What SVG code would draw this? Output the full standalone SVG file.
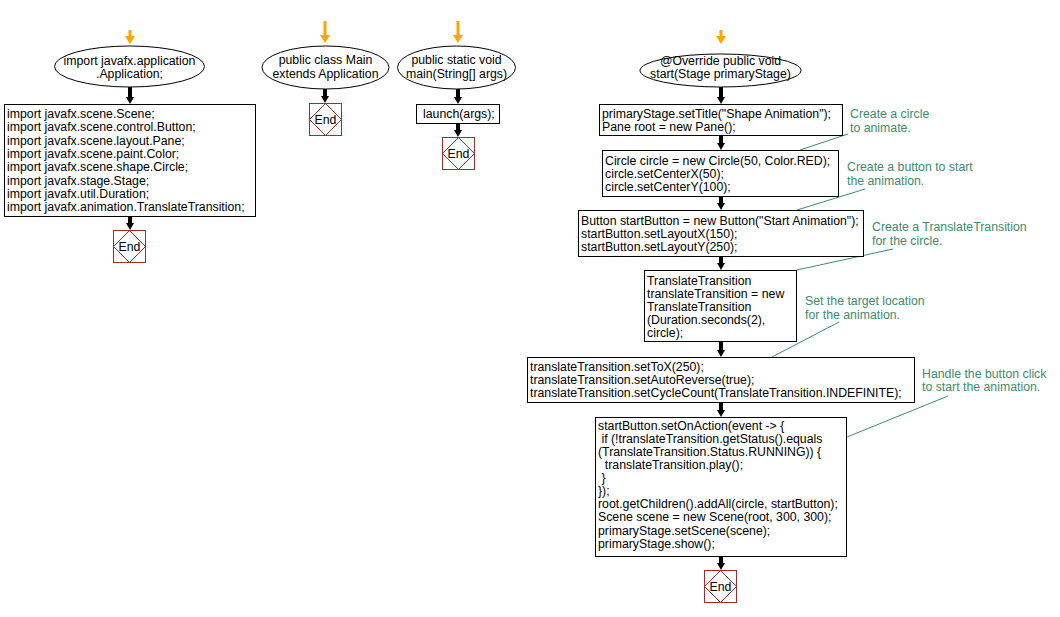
<svg xmlns="http://www.w3.org/2000/svg" width="1060" height="617" viewBox="0 0 1060 617">
<style>
text{font-family:"Liberation Sans",Arial,sans-serif;font-size:12.3px;fill:#000;white-space:pre}
.n{fill:#fff;stroke:#000;stroke-width:1}
.end rect{fill:#fff;stroke:#a52a2a;stroke-width:1}
.end path{fill:none;stroke:#a52a2a;stroke-width:1}
.end text{text-anchor:middle}
.c{text-anchor:middle}
.cm{fill:#3e8b6d}
.cl{stroke:#3e8b6d;stroke-width:1;fill:none}
.ab{stroke:#000;stroke-width:4;marker-end:url(#mb)}
.ao{stroke:#ffa500;stroke-width:3;marker-end:url(#mo)}
</style>
<defs>
<marker id="mb" markerUnits="userSpaceOnUse" markerWidth="8" markerHeight="8" refX="0" refY="4" orient="auto"><path d="M0,0 L7,4 L0,8 z" fill="#000"/></marker>
<marker id="mo" markerUnits="userSpaceOnUse" markerWidth="9" markerHeight="10" refX="0" refY="5" orient="auto"><path d="M0,0 L8,5 L0,10 z" fill="#ffa500"/></marker>
</defs>
<g id="connectors">
<line class="ao" x1="130" y1="30" x2="130" y2="36"/>
<line class="ab" x1="130" y1="87" x2="130" y2="97"/>
<line class="ab" x1="130" y1="217" x2="130" y2="223"/>
<line class="ao" x1="325" y1="21" x2="325" y2="35"/>
<line class="ab" x1="325" y1="89" x2="325" y2="96"/>
<line class="ao" x1="458" y1="21" x2="458" y2="35"/>
<line class="ab" x1="458" y1="89" x2="458" y2="97"/>
<line class="ab" x1="458" y1="124" x2="458" y2="130"/>
<line class="ao" x1="721" y1="30" x2="721" y2="36"/>
<line class="ab" x1="721" y1="87" x2="721" y2="97"/>
<line class="ab" x1="721" y1="136" x2="721" y2="143"/>
<line class="ab" x1="721" y1="197" x2="721" y2="203"/>
<line class="ab" x1="721" y1="257" x2="721" y2="263"/>
<line class="ab" x1="721" y1="342" x2="721" y2="350"/>
<line class="ab" x1="721" y1="403" x2="721" y2="410"/>
<line class="ab" x1="721" y1="557" x2="721" y2="563"/>
<line class="cl" x1="848" y1="134" x2="800" y2="150"/>
<line class="cl" x1="865" y1="189" x2="797" y2="210"/>
<line class="cl" x1="893" y1="249" x2="797" y2="270"/>
<line class="cl" x1="839" y1="322" x2="772" y2="357"/>
<line class="cl" x1="948" y1="396" x2="847" y2="437"/>
</g>
<g id="n_import_app">
<ellipse class="n" cx="129.5" cy="66.5" rx="75" ry="20.5"/>
<text class="c" x="129.5" y="65">import javafx.application</text>
<text class="c" x="129.5" y="78">.Application;</text>
</g>
<g id="n_imports">
<rect class="n" x="4.5" y="104.5" width="251" height="112"/>
<text x="7" y="118">import javafx.scene.Scene;</text>
<text x="7" y="131.3">import javafx.scene.control.Button;</text>
<text x="7" y="144.6">import javafx.scene.layout.Pane;</text>
<text x="7" y="158">import javafx.scene.paint.Color;</text>
<text x="7" y="171.3">import javafx.scene.shape.Circle;</text>
<text x="7" y="184.6">import javafx.stage.Stage;</text>
<text x="7" y="198">import javafx.util.Duration;</text>
<text x="7" y="211.3">import javafx.animation.TranslateTransition;</text>
</g>
<g id="n_end1" class="end">
<rect x="113.5" y="230.5" width="32" height="32"/>
<path d="M129.5,230.5 L145.5,246.5 L129.5,262.5 L113.5,246.5 Z"/>
<text x="129.5" y="251">End</text>
</g>
<g id="n_class">
<ellipse class="n" cx="325.5" cy="67.5" rx="63.5" ry="21.5"/>
<text class="c" x="325.5" y="64">public class Main</text>
<text class="c" x="325.5" y="78">extends Application</text>
</g>
<g id="n_end2" class="end">
<rect x="309.5" y="103.5" width="32" height="32"/>
<path d="M325.5,103.5 L341.5,119.5 L325.5,135.5 L309.5,119.5 Z"/>
<text x="325.5" y="124">End</text>
</g>
<g id="n_main">
<ellipse class="n" cx="456.5" cy="67.5" rx="59" ry="21.5"/>
<text class="c" x="456.5" y="64">public static void</text>
<text class="c" x="456.5" y="78">main(String[] args)</text>
</g>
<g id="n_launch">
<rect class="n" x="416.5" y="104.5" width="83" height="19"/>
<text x="423" y="118">launch(args);</text>
</g>
<g id="n_end3" class="end">
<rect x="442.5" y="137.5" width="32" height="32"/>
<path d="M458.5,137.5 L474.5,153.5 L458.5,169.5 L442.5,153.5 Z"/>
<text x="458.5" y="158">End</text>
</g>
<g id="n_start">
<ellipse class="n" cx="720.5" cy="70.5" rx="80.5" ry="16.5"/>
<text class="c" x="720.5" y="65">@Override public void</text>
<text class="c" x="720.5" y="78">start(Stage primaryStage)</text>
</g>
<g id="n_b1">
<rect class="n" x="599.5" y="104.5" width="243" height="31"/>
<text x="602" y="118">primaryStage.setTitle("Shape Animation");</text>
<text x="602" y="131">Pane root = new Pane();</text>
</g>
<g id="n_b2">
<rect class="n" x="602.5" y="150.5" width="236" height="46"/>
<text x="605" y="164.5">Circle circle = new Circle(50, Color.RED);</text>
<text x="605" y="177.5">circle.setCenterX(50);</text>
<text x="605" y="190.5">circle.setCenterY(100);</text>
</g>
<g id="n_b3">
<rect class="n" x="578.5" y="210.5" width="285" height="46"/>
<text x="581" y="224.5">Button startButton = new Button("Start Animation");</text>
<text x="581" y="237.5">startButton.setLayoutX(150);</text>
<text x="581" y="250.5">startButton.setLayoutY(250);</text>
</g>
<g id="n_b4">
<rect class="n" x="644.5" y="270.5" width="152" height="71"/>
<text x="647" y="284.5">TranslateTransition</text>
<text x="647" y="297.5">translateTransition = new</text>
<text x="647" y="310.5">TranslateTransition</text>
<text x="647" y="323.5">(Duration.seconds(2),</text>
<text x="647" y="336.5">circle);</text>
</g>
<g id="n_b5">
<rect class="n" x="527.5" y="357.5" width="387" height="45"/>
<text x="530" y="371">translateTransition.setToX(250);</text>
<text x="530" y="384">translateTransition.setAutoReverse(true);</text>
<text x="530" y="397">translateTransition.setCycleCount(TranslateTransition.INDEFINITE);</text>
</g>
<g id="n_b6">
<rect class="n" x="595.5" y="417.5" width="251" height="139"/>
<text x="598" y="430">startButton.setOnAction(event -&gt; {</text>
<text x="598" y="443"> if (!translateTransition.getStatus().equals</text>
<text x="598" y="456">(TranslateTransition.Status.RUNNING)) {</text>
<text x="598" y="469">  translateTransition.play();</text>
<text x="598" y="482"> }</text>
<text x="598" y="495">});</text>
<text x="598" y="508">root.getChildren().addAll(circle, startButton);</text>
<text x="598" y="521">Scene scene = new Scene(root, 300, 300);</text>
<text x="598" y="534.5">primaryStage.setScene(scene);</text>
<text x="598" y="547.5">primaryStage.show();</text>
</g>
<g id="n_end4" class="end">
<rect x="704.5" y="570.5" width="32" height="32"/>
<path d="M720.5,570.5 L736.5,586.5 L720.5,602.5 L704.5,586.5 Z"/>
<text x="720.5" y="591">End</text>
</g>
<g id="comments">
<text class="cm" x="850" y="117.5">Create a circle</text>
<text class="cm" x="850" y="131.5">to animate.</text>
<text class="cm" x="847" y="171">Create a button to start</text>
<text class="cm" x="847" y="185">the animation.</text>
<text class="cm" x="872" y="231">Create a TranslateTransition</text>
<text class="cm" x="872" y="245">for the circle.</text>
<text class="cm" x="805" y="305">Set the target location</text>
<text class="cm" x="805" y="318.5">for the animation.</text>
<text class="cm" x="922" y="378">Handle the button click</text>
<text class="cm" x="922" y="391">to start the animation.</text>
</g>
</svg>
